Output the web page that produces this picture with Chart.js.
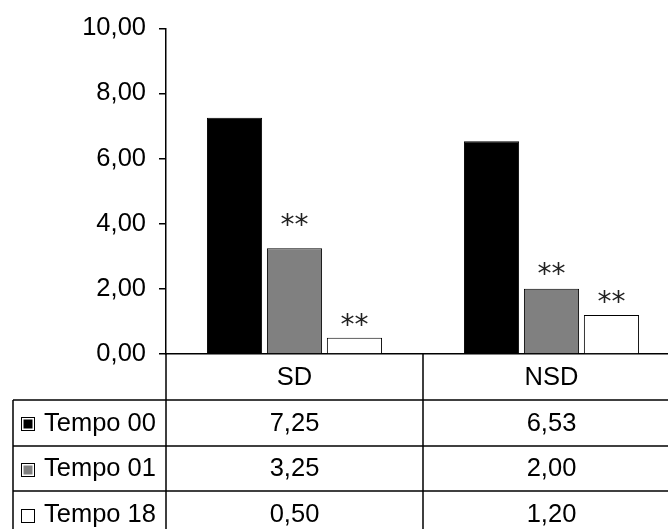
<!DOCTYPE html>
<html>
<head>
<meta charset="utf-8">
<script src="https://cdn.jsdelivr.net/npm/chart.js@4"></script>
<style>
    html, body { margin: 0; padding: 0; background: #fff; overflow: hidden; }
    #wrap { width: 700px; height: 560px; }
</style>
</head>
<body>
<div id="wrap"><canvas id="chart" width="700" height="560"></canvas></div>
<script>
// データ
const categories = ['SD', 'NSD'];
const seriesNames = ['Tempo 00', 'Tempo 01', 'Tempo 18'];
const tempo00 = [7.25, 6.53];
const tempo01 = [3.25, 2.00];
const tempo18 = [0.50, 1.20];
// 有意差の記号
const sig00 = ['', ''];
const sig01 = ['**', '**'];
const sig18 = ['**', '**'];
const yMin = 0;
const yMax = 10;
const yStep = 2;

const FONT = "'Liberation Sans', Arial, sans-serif";
const FONT_SIZE = 25.5;
const colors = ['#000000', '#808080', '#ffffff'];
// 記号と棒の間隔 (px)
const sigGap = [[0, 0], [28, 20], [18, 18]];

// 数値をカンマ区切りで表示
function fmt(v) {
    return v.toFixed(2).replace('.', ',');
}

// アスタリスクを描画するプラグイン
const sigPlugin = {
    id: 'sigMarks',
    afterDatasetsDraw(chart) {
        const ctx = chart.ctx;
        const sigs = [sig00, sig01, sig18];
        ctx.save();
        ctx.font = "28px 'DejaVu Sans'";
        ctx.fillStyle = '#222';
        ctx.textAlign = 'center';
        ctx.textBaseline = 'alphabetic';
        sigs.forEach((arr, di) => {
            const meta = chart.getDatasetMeta(di);
            arr.forEach((s, i) => {
                if (!s) return;
                const bar = meta.data[i];
                const m = ctx.measureText(s);
                const cy = bar.y - sigGap[di][i];
                ctx.fillText(s, bar.x, cy + (m.actualBoundingBoxAscent - m.actualBoundingBoxDescent) / 2);
            });
        });
        ctx.restore();
    }
};

// データテーブルを描画するプラグイン
const tablePlugin = {
    id: 'dataTable',
    afterDraw(chart) {
        const ctx = chart.ctx;
        const area = chart.chartArea;
        const x = chart.scales.x;
        const W = chart.width;
        const H = chart.height;
        const top = area.bottom;
        const headH = 46;
        const rowH = 45.6;
        const tableLeft = 13;
        const catW = (area.right - area.left) / categories.length;
        const series = [tempo00, tempo01, tempo18];

        ctx.save();
        ctx.strokeStyle = '#000';
        ctx.lineWidth = 1.5;

        // 横線
        for (let r = 0; r <= series.length; r++) {
            const y = Math.round(top + headH + r * rowH);
            ctx.beginPath();
            ctx.moveTo(tableLeft, y);
            ctx.lineTo(W, y);
            ctx.stroke();
        }
        // 縦線
        ctx.beginPath();
        ctx.moveTo(tableLeft, top + headH);
        ctx.lineTo(tableLeft, H);
        for (let c = 0; c <= categories.length; c++) {
            const vx = Math.round(area.left + c * catW);
            ctx.moveTo(vx, top);
            ctx.lineTo(vx, H);
        }
        ctx.stroke();

        ctx.fillStyle = '#000';
        ctx.font = FONT_SIZE + 'px ' + FONT;
        ctx.textBaseline = 'middle';
        ctx.textAlign = 'center';

        // カテゴリ名
        categories.forEach((c, i) => {
            ctx.fillText(c, x.getPixelForValue(i), top + headH / 2 + 1);
        });

        // 各系列の行
        series.forEach((vals, r) => {
            const cy = top + headH + r * rowH + rowH / 2 + 1;
            // 凡例キー
            const k = 13;
            const kx = 21.5;
            const ky = Math.round(cy - k / 2) + 0.5;
            ctx.lineWidth = 1;
            ctx.fillStyle = '#fff';
            ctx.fillRect(kx, ky, k, k);
            ctx.strokeRect(kx, ky, k, k);
            ctx.fillStyle = colors[r];
            ctx.fillRect(kx + 2, ky + 2, k - 4, k - 4);

            ctx.fillStyle = '#000';
            ctx.textAlign = 'left';
            ctx.fillText(seriesNames[r], 44, cy);
            ctx.textAlign = 'center';
            vals.forEach((v, i) => {
                ctx.fillText(fmt(v), x.getPixelForValue(i), cy);
            });
        });
        ctx.restore();
    }
};

const ctx = document.getElementById('chart').getContext('2d');
const chart = new Chart(ctx, {
    type: 'bar',
    data: {
        labels: categories,
        datasets: [{
            label: seriesNames[0],
            data: tempo00,
            backgroundColor: colors[0],
            borderColor: '#000',
            borderWidth: 1
        }, {
            label: seriesNames[1],
            data: tempo01,
            backgroundColor: colors[1],
            borderColor: '#000',
            borderWidth: 1
        }, {
            label: seriesNames[2],
            data: tempo18,
            backgroundColor: colors[2],
            borderColor: '#000',
            borderWidth: 1
        }]
    },
    options: {
        responsive: false,
        animation: false,
        categoryPercentage: 0.70,
        barPercentage: 0.92,
        layout: {
            padding: { top: 23, right: 20, bottom: 206, left: 0 }
        },
        plugins: {
            legend: { display: false },
            tooltip: { enabled: false }
        },
        scales: {
            x: {
                ticks: { display: false },
                grid: { display: false },
                border: { display: true, color: '#000', width: 1.5 },
                afterFit: (scale) => { scale.height = 0; }
            },
            y: {
                min: yMin,
                max: yMax,
                ticks: {
                    stepSize: yStep,
                    padding: 13,
                    color: '#000',
                    font: { family: FONT, size: FONT_SIZE },
                    callback: (v) => fmt(v)
                },
                grid: {
                    drawOnChartArea: false,
                    drawTicks: true,
                    tickLength: 7,
                    lineWidth: 1.5,
                    color: '#000'
                },
                border: { display: true, color: '#000', width: 1.5 },
                afterFit: (scale) => { scale.width = 166; }
            }
        }
    },
    plugins: [sigPlugin, tablePlugin]
});
</script>
</body>
</html>
